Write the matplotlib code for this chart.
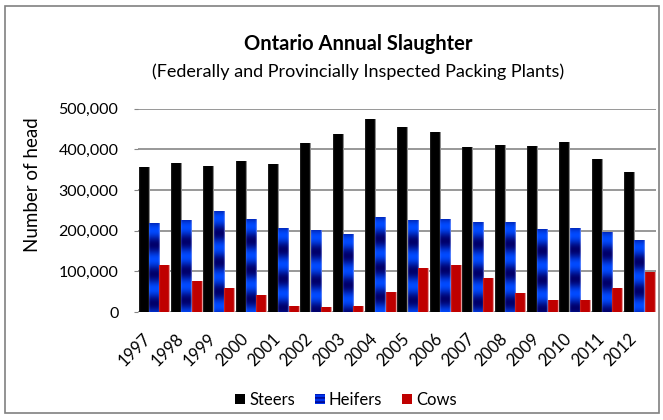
import matplotlib
matplotlib.use("Agg")
import matplotlib.pyplot as plt
import numpy as np
from matplotlib.patches import Rectangle
from matplotlib.ticker import FuncFormatter

plt.rcParams['font.family'] = ['Lato', 'DejaVu Sans']

# Ontario slaughter, head per year
years = [str(y) for y in range(1997, 2013)]
steers = [356000, 366000, 358000, 370000, 363000, 415000, 437000, 474000,
          454000, 442000, 405000, 410000, 407000, 417000, 375000, 343000]
heifers = [218000, 225000, 247000, 228000, 206000, 201000, 191000, 233000,
           225000, 228000, 220000, 220000, 203000, 206000, 196000, 176000]
cows = [115000, 75000, 58000, 41000, 14000, 11000, 14000, 48000,
        107000, 115000, 83000, 46000, 29000, 29000, 58000, 98000]
series_names = ['Steers', 'Heifers', 'Cows']


def shade_columns(base, edge, ncols=10):
    # horizontal shading: mostly base colour, light right edge
    cols = np.tile(np.array(base, float), (ncols, 1))
    cols[-1] = edge
    cols[0] = 0.8 * np.array(base) + 0.2 * np.array(edge)
    return cols


def heifer_image(h, ncols=10, period=72000, offset=17000):
    n = max(int(h / 1000) + 2, 2)
    d = np.linspace(0, h, n)
    t = 0.5 + 0.5 * np.cos(2 * np.pi * (d - offset) / period)
    bright = np.array([0.0, 0.29, 1.0])
    dark = np.array([0.0, 0.0, 0.42])
    rows = dark[None, :] + t[:, None] * (bright - dark)[None, :]
    img = np.repeat(rows[:, None, :], ncols, axis=1)
    img[:, -1] = 0.55 * img[:, -1] + 0.45 * np.array([0.7, 0.75, 1.0])
    img[:, 0] = 0.8 * img[:, 0] + 0.2 * np.array([0.5, 0.6, 1.0])
    return img


fig = plt.figure(figsize=(6.63, 4.2), dpi=100)
ax = fig.add_axes([0.208, 0.257, 0.781, 0.4845])

x = np.arange(len(years))
w = 0.32
data = [steers, heifers, cows]
for k, vals in enumerate(data):
    bars = ax.bar(x + (k - 1) * w, vals, w, color='none', linewidth=0, zorder=2)
    for b in bars:
        x0, h = b.get_x(), b.get_height()
        if k == 0:
            img = shade_columns([0, 0, 0], [0.55, 0.55, 0.55])[None, :, :]
        elif k == 1:
            img = heifer_image(h)
        else:
            img = shade_columns([0.75, 0, 0], [0.9, 0.6, 0.6])[None, :, :]
        ax.imshow(img, extent=[x0, x0 + b.get_width(), 0, h], origin='upper',
                  aspect='auto', interpolation='bilinear', zorder=2)

ax.set_xlim(-0.5, len(years) - 0.5)
ax.set_ylim(0, 500000)
ax.set_yticks(np.arange(0, 500001, 100000))
ax.yaxis.set_major_formatter(FuncFormatter(lambda v, p: f'{int(v):,}'))
ax.yaxis.grid(True, color='#868686', linewidth=1.2)
ax.set_axisbelow(True)
for s in ax.spines.values():
    s.set_visible(False)
ax.tick_params(axis='y', length=3, color='#868686', pad=11, labelsize=11.5)
ax.set_xticks(x)
ax.set_xticklabels(years, rotation=45, ha='right', va='top')
ax.tick_params(axis='x', length=0, pad=13, labelsize=12)

fig.text(33 / 663, 1 - 185 / 420, 'Number of head', rotation=90,
         ha='center', va='center', fontsize=13.5)
fig.text(358 / 663, 1 - 44 / 420, 'Ontario Annual Slaughter',
         ha='center', va='center', fontsize=14.5, fontweight='bold')
fig.text(358 / 663, 1 - 72 / 420,
         '(Federally and Provincially Inspected Packing Plants)',
         ha='center', va='center', fontsize=13)

handles = [Rectangle((0, 0), 1, 1, facecolor='black', linewidth=0),
           Rectangle((0, 0), 1, 1, facecolor='#0033ee', edgecolor='#000080',
                     hatch='----', linewidth=0),
           Rectangle((0, 0), 1, 1, facecolor='#c00000', linewidth=0)]
fig.legend(handles, series_names, loc='center',
           bbox_to_anchor=(346 / 663, 1 - 400 / 420), ncol=3, frameon=False,
           fontsize=12, handlelength=0.6, handleheight=0.6,
           handletextpad=0.25, columnspacing=1.2)

fig.patches.append(Rectangle((5 / 663, 7 / 420), 654 / 663, 407 / 420,
                             transform=fig.transFigure, fill=False,
                             edgecolor='#808080', linewidth=1.2))

fig.savefig('out.png', dpi=100)
